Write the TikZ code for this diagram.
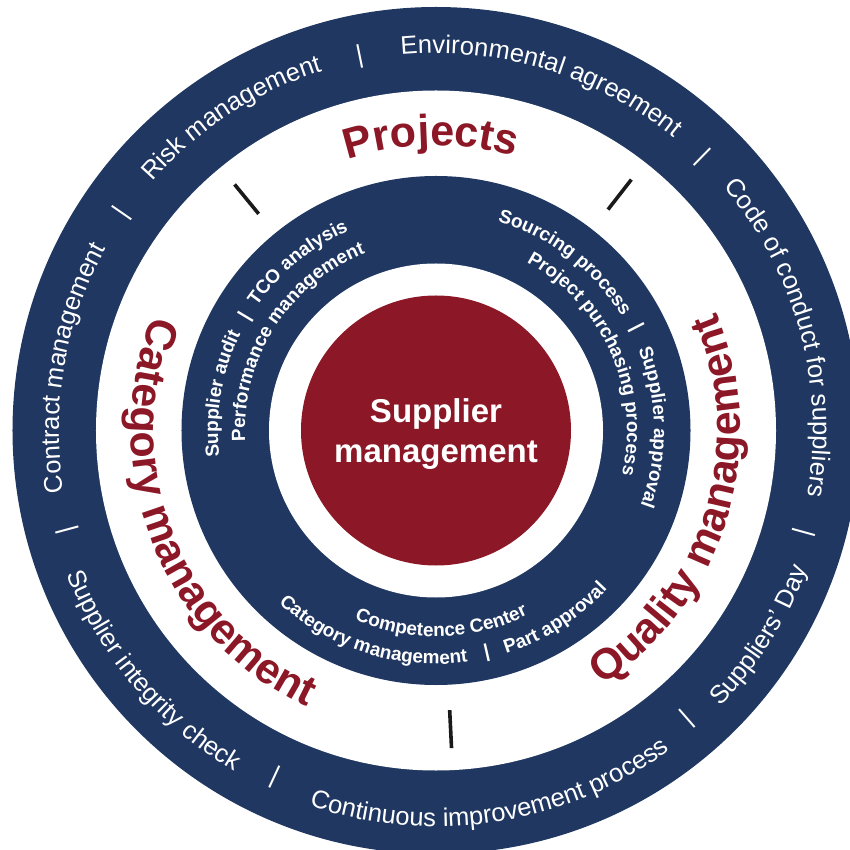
\documentclass[tikz,border=0pt]{standalone}
\usepackage{fontspec}
\setmainfont{Liberation Sans}
\usetikzlibrary{decorations.text}
\definecolor{navy}{HTML}{1F3761}
\definecolor{wine}{HTML}{8C1726}
\definecolor{tickc}{HTML}{1A1A1A}
\newcommand\ringA{\fontsize{25.5}{30}\selectfont}
\newcommand\ringB{\bfseries\fontsize{19}{23}\selectfont}
\newcommand\ringC{\bfseries\fontsize{43}{50}\selectfont}
\newcommand\cwtext[5]{%
  \path[decorate,decoration={text along path,text align=center,text format delimiters={[}{]},text color=#5,text={[#3]#4}}]
    (#1+75:#2) arc[start angle=#1+75,end angle=#1-75,radius=#2];}
\newcommand\ccwtext[5]{%
  \path[decorate,decoration={text along path,text align=center,text format delimiters={[}{]},text color=#5,text={[#3]#4}}]
    (#1-75:#2) arc[start angle=#1-75,end angle=#1+75,radius=#2];}
\tikzset{
  sepo/.style={text=white,font=\ringA,inner sep=0pt},
  sepm/.style={text=white,font=\ringB,inner sep=0pt},
  blacktick/.style={draw=tickc,line width=3.6pt},
}
\begin{document}
\begin{tikzpicture}
\useasboundingbox (-436pt,-419.5pt) rectangle (413pt,430.5pt);
% rings
\fill[navy] (0,0) circle[radius=423.5pt];
\fill[white] (0,0) circle[radius=340pt];
\fill[navy] (0,0) circle[radius=254.5pt];
\fill[white] (0,0) circle[radius=167pt];
\node[circle,fill=wine,minimum size=270pt,inner sep=0pt] (core) at (0,0) {};
\node[align=center,text=white,font=\bfseries\fontsize{33}{40}\selectfont] (coretext) at (0,-4pt) {Supplier\\management};
% outer ring texts
\cwtext{170.25}{377pt}{\ringA}{Contract management}{white}
\cwtext{123.15}{377pt}{\ringA}{Risk management}{white}
\cwtext{73.1}{377pt}{\ringA}{Environmental agreement}{white}
\cwtext{15.15}{377pt}{\ringA}{Code of conduct for suppliers}{white}
\ccwtext{-32.3}{396pt}{\ringA}{Suppliers’ Day}{white}
\ccwtext{-81.2}{396pt}{\ringA}{Continuous improvement process}{white}
\ccwtext{220.35}{396pt}{\ringA}{Supplier integrity check}{white}
\foreach \a [count=\i] in {145.3,101.5,45.7,-15.5,-48.9,245.1,195.1}
  \node[sepo,rotate=\a-90] (so\i) at (\a:382pt) {|};
% white ring texts
\cwtext{90.95}{285pt}{\ringC}{Projects}{wine}
\ccwtext{201.5}{305pt}{\ringC}{Category management}{wine}
\ccwtext{-17}{304pt}{\ringC}{Quality management}{wine}
\foreach \a in {129.3,52.1,-87.2}
  \draw[blacktick] (\a:280pt) -- (\a:318pt);
% middle ring texts
\cwtext{170.25}{218pt}{\ringB}{Supplier audit}{white}
\cwtext{129.4}{218pt}{\ringB}{TCO analysis}{white}
\cwtext{147.45}{191pt}{\ringB}{Performance management}{white}
\cwtext{52.5}{218pt}{\ringB}{Sourcing process}{white}
\cwtext{0.85}{218pt}{\ringB}{Supplier approval}{white}
\cwtext{24.2}{191pt}{\ringB}{Project purchasing process}{white}
\ccwtext{271.6}{206pt}{\ringB}{Competence Center}{white}
\ccwtext{252.75}{233.5pt}{\ringB}{Category management}{white}
\ccwtext{302.35}{233.5pt}{\ringB}{Part approval}{white}
\node[sepm,rotate=59.1] (sm1) at (149.1:222pt) {|};
\node[sepm,rotate=-62.8] (sm2) at (27.2:225pt) {|};
\node[sepm,rotate=192.9] (sm3) at (282.9:228pt) {|};
\end{tikzpicture}
\end{document}
